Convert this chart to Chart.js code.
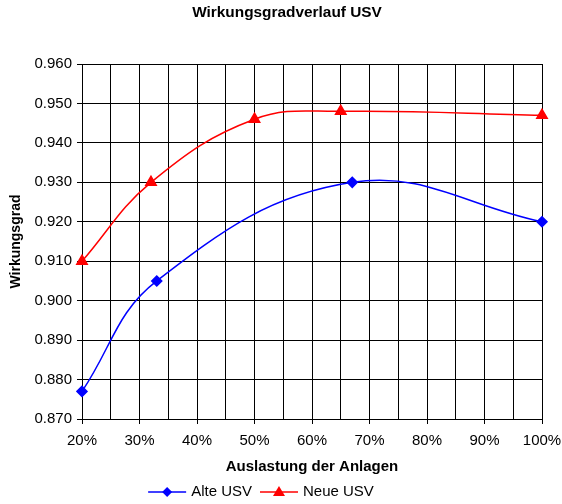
<!DOCTYPE html>
<html lang="de">
<head>
<meta charset="UTF-8">
<title>Wirkungsgradverlauf USV</title>
<script src="https://cdn.jsdelivr.net/npm/chart.js"></script>
<style>
  html, body { margin: 0; padding: 0; background: #fff; }
  #wrap { width: 562px; height: 504px; }
</style>
</head>
<body>
<div id="wrap"><canvas id="usv-chart" width="562" height="504"></canvas></div>
<script>
// Werte
const alteLast = [20, 33, 67, 100];
const alteWerte = [0.877, 0.905, 0.930, 0.920];
const neueLast = [20, 32, 50, 65, 100];
const neueWerte = [0.910, 0.930, 0.946, 0.948, 0.947];

const FONT = "'Liberation Sans', Arial, sans-serif";
const TITEL = 'Wirkungsgradverlauf USV';

// Titel und Excel-artige Legende (Linie mit Marker in der Mitte)
const excelPlugin = {
    id: 'excelDeko',
    afterDraw(chart) {
        const ctx = chart.ctx;
        ctx.save();
        ctx.fillStyle = '#000';
        ctx.textAlign = 'center';
        ctx.textBaseline = 'middle';
        ctx.font = 'bold 15.4px ' + FONT;
        ctx.fillText(TITEL, 287, 13);

        const y = 492;
        ctx.font = '15px ' + FONT;
        const items = chart.data.datasets.map(ds => ({
            label: ds.label, color: ds.borderColor, style: ds.pointStyle,
            w: 38 + 5 + ctx.measureText(ds.label).width
        }));
        const gap = 8;
        const total = items.reduce((s, it) => s + it.w, 0) + gap * (items.length - 1);
        let x = 261 - total / 2;
        items.forEach(it => {
            ctx.strokeStyle = it.color;
            ctx.fillStyle = it.color;
            ctx.lineWidth = 1.5;
            ctx.beginPath();
            ctx.moveTo(x, y);
            ctx.lineTo(x + 38, y);
            ctx.stroke();
            const cx = x + 19;
            ctx.beginPath();
            if (it.style === 'triangle') {
                ctx.moveTo(cx, y - 6);
                ctx.lineTo(cx + 6, y + 4);
                ctx.lineTo(cx - 6, y + 4);
            } else {
                ctx.moveTo(cx, y - 5);
                ctx.lineTo(cx + 5, y);
                ctx.lineTo(cx, y + 5);
                ctx.lineTo(cx - 5, y);
            }
            ctx.closePath();
            ctx.fill();
            ctx.fillStyle = '#000';
            ctx.textAlign = 'left';
            ctx.fillText(it.label, x + 43, y);
            x += it.w + gap;
        });
        ctx.restore();
    }
};

const ctx = document.getElementById('usv-chart').getContext('2d');

new Chart(ctx, {
    type: 'line',
    data: {
        datasets: [
            {
                label: 'Alte USV',
                data: alteLast.map((x, i) => ({ x: x, y: alteWerte[i] })),
                borderColor: '#0000ff',
                backgroundColor: '#0000ff',
                borderWidth: 1.5,
                pointStyle: 'rectRot',
                pointRadius: 5,
                tension: 0.4,
                clip: false
            },
            {
                label: 'Neue USV',
                data: neueLast.map((x, i) => ({ x: x, y: neueWerte[i] })),
                borderColor: '#ff0000',
                backgroundColor: '#ff0000',
                borderWidth: 1.5,
                pointStyle: 'triangle',
                pointRadius: 6,
                tension: 0.4,
                clip: false
            }
        ]
    },
    options: {
        responsive: false,
        animation: false,
        layout: { padding: { left: 0, right: 20, top: 64, bottom: 25 } },
        plugins: {
            legend: { display: false },
            tooltip: { enabled: false },
            title: { display: false }
        },
        scales: {
            x: {
                type: 'linear',
                min: 20,
                max: 100,
                afterFit(scale) {
                    scale.height = 60;
                    scale.paddingLeft = 0;
                    scale.paddingRight = 0;
                },
                ticks: {
                    stepSize: 5,
                    autoSkip: false,
                    maxRotation: 0,
                    padding: 8,
                    color: '#000',
                    font: { family: FONT, size: 15 },
                    callback: v => (v % 10 === 0 ? v + '%' : '')
                },
                grid: {
                    color: '#000',
                    lineWidth: 1,
                    tickLength: 5,
                    tickColor: c => (c.tick && c.tick.value % 10 === 0 ? '#000' : 'rgba(0,0,0,0)')
                },
                border: { color: '#000', width: 1 },
                title: {
                    display: true,
                    text: 'Auslastung der Anlagen',
                    color: '#000',
                    font: { family: FONT, size: 15, weight: 'bold' },
                    padding: { top: 0, bottom: 3 }
                }
            },
            y: {
                min: 0.87,
                max: 0.96,
                afterFit(scale) {
                    scale.width = 82;
                    scale.paddingTop = 0;
                    scale.paddingBottom = 0;
                },
                ticks: {
                    stepSize: 0.01,
                    padding: 5,
                    color: '#000',
                    font: { family: FONT, size: 15 },
                    callback: v => v.toFixed(3)
                },
                grid: { color: '#000', lineWidth: 1, tickLength: 5 },
                border: { color: '#000', width: 1 },
                title: {
                    display: true,
                    text: 'Wirkungsgrad',
                    color: '#000',
                    font: { family: FONT, size: 14, weight: 'bold' },
                    padding: { top: 8, bottom: 0 }
                }
            }
        }
    },
    plugins: [excelPlugin]
});
</script>
</body>
</html>
